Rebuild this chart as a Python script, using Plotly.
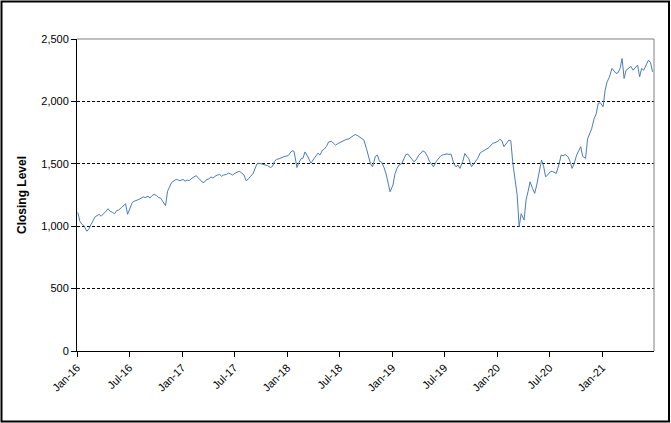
import datetime as dt
import plotly.graph_objects as go

# Weekly closing levels (4 readings per month, days 4/11/18/25)
close_2016 = [1110, 1040, 1015, 1005, 960, 975, 1010, 1040, 1075, 1085, 1095, 1080,
              1100, 1120, 1140, 1120, 1110, 1100, 1125, 1130, 1150, 1165, 1180, 1095,
              1150, 1190, 1200, 1205, 1215, 1225, 1235, 1230, 1240, 1225, 1245, 1255,
              1245, 1230, 1225, 1200, 1165, 1280, 1320, 1350, 1365, 1375, 1370, 1365]
close_2017 = [1375, 1360, 1370, 1365, 1385, 1395, 1405, 1390, 1375, 1355, 1350, 1370,
              1380, 1395, 1385, 1400, 1410, 1415, 1400, 1410, 1415, 1425, 1420, 1410,
              1425, 1435, 1440, 1430, 1410, 1365, 1375, 1395, 1420, 1460, 1500, 1505,
              1500, 1495, 1490, 1485, 1470, 1480, 1520, 1535, 1540, 1550, 1555, 1560]
close_2018 = [1565, 1585, 1605, 1600, 1470, 1510, 1540, 1545, 1595, 1570, 1530, 1505,
              1540, 1560, 1585, 1570, 1610, 1620, 1640, 1675, 1680, 1665, 1650, 1660,
              1670, 1680, 1690, 1695, 1700, 1710, 1720, 1735, 1725, 1715, 1700, 1690,
              1620, 1560, 1500, 1476, 1560, 1570, 1520, 1515, 1470, 1420, 1350, 1276]
close_2019 = [1330, 1420, 1463, 1490, 1503, 1540, 1575, 1578, 1560, 1540, 1516, 1530,
              1570, 1585, 1604, 1595, 1560, 1520, 1500, 1476, 1520, 1545, 1560, 1570,
              1575, 1580, 1575, 1578, 1500, 1476, 1490, 1463, 1520, 1583, 1560, 1540,
              1476, 1500, 1520, 1540, 1589, 1600, 1610, 1620, 1630, 1650, 1664, 1670]
close_2020 = [1680, 1696, 1685, 1637, 1670, 1690, 1685, 1503, 1370, 1250, 996, 1100,
              1049, 1210, 1280, 1356, 1300, 1263, 1330, 1423, 1530, 1480, 1396, 1410,
              1436, 1440, 1430, 1423, 1500, 1570, 1565, 1575, 1556, 1520, 1463, 1500,
              1570, 1600, 1637, 1560, 1543, 1700, 1744, 1780, 1864, 1900, 1984, 1990]
close_2021 = [1957, 2091, 2157, 2190, 2264, 2240, 2224, 2230, 2264, 2344, 2184, 2250,
              2264, 2280, 2250, 2270, 2291, 2197, 2264, 2250, 2300, 2331, 2310, 2237]

years = [2016, 2017, 2018, 2019, 2020, 2021]
series = [close_2016, close_2017, close_2018, close_2019, close_2020, close_2021]
obs_days = [4, 11, 18, 25]

dates, values = [], []
for yr, vals in zip(years, series):
    for i, v in enumerate(vals):
        m = i // 4 + 1
        d = obs_days[i % 4]
        dates.append(dt.date(yr, m, d))
        values.append(v)

tick_dates = []
for yr in range(2016, 2022):
    tick_dates.append(dt.date(yr, 1, 1))
    if yr < 2021:
        tick_dates.append(dt.date(yr, 7, 1))
tick_text = [d.strftime("%b-%y") for d in tick_dates]

y_ticks = [0, 500, 1000, 1500, 2000, 2500]

fig = go.Figure()
fig.add_trace(go.Scatter(x=dates, y=values, mode="lines",
                         line=dict(color="#4A7EBB", width=1), hoverinfo="x+y"))

W, H = 671, 423
L, R, T, B = 77, 17, 39, 72
pw, ph = W - L - R, H - T - B

def px(x):
    return (x - L) / pw

def py(y):
    return (H - B - y) / ph

fig.update_layout(
    width=W, height=H,
    margin=dict(l=L, r=R, t=T, b=B, autoexpand=False),
    paper_bgcolor="white", plot_bgcolor="white",
    showlegend=False,
    font=dict(family="Liberation Sans, Arial, sans-serif", size=11, color="black"),
    xaxis=dict(
        type="date",
        range=[dt.date(2016, 1, 1), dt.date(2021, 6, 30)],
        tickvals=tick_dates, ticktext=tick_text, tickangle=-45,
        showgrid=False, zeroline=False,
        showline=True, linecolor="black", linewidth=1,
        ticks="outside", ticklen=5, tickcolor="black",
        tickfont=dict(size=11),
    ),
    yaxis=dict(
        range=[0, 2500], tickvals=y_ticks, tickformat=",d",
        showgrid=True, gridcolor="black", gridwidth=1, griddash="3px,2px",
        zeroline=False,
        showline=True, linecolor="black", linewidth=1,
        ticks="outside", ticklen=5, tickcolor="black",
        tickfont=dict(size=11),
        title=dict(text="<b>Closing Level</b>", font=dict(size=12), standoff=12),
    ),
    shapes=[
        dict(type="line", xref="paper", yref="paper", x0=0, x1=1, y0=1, y1=1,
             line=dict(color="#808080", width=1)),
        dict(type="line", xref="paper", yref="paper", x0=1, x1=1, y0=0, y1=1,
             line=dict(color="#808080", width=1)),
        dict(type="rect", xref="paper", yref="paper",
             x0=px(1.5), x1=px(669), y0=py(1.5), y1=py(421.5),
             line=dict(color="black", width=2), fillcolor="rgba(0,0,0,0)"),
    ],
)

fig.write_html("out.html", config={"displayModeBar": False},
               post_script="document.body.style.margin='0';document.body.style.padding='0';")
